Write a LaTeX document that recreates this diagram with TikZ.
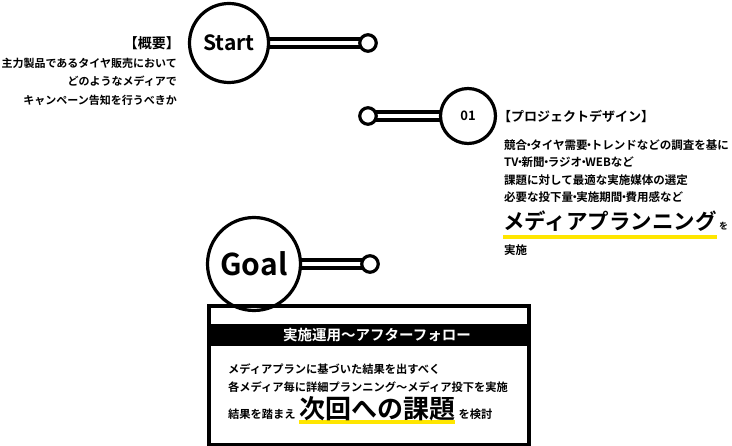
\documentclass[tikz,border=0pt]{standalone}
\usepackage{fontspec}
\setmainfont{Noto Sans CJK JP}[BoldFont={Noto Sans CJK JP Bold}]
\usetikzlibrary{positioning,backgrounds}
\definecolor{marker}{HTML}{FFE600}
\newcommand{\nakadot}{\makebox[0.28em]{・}}

\begin{document}
\begin{tikzpicture}[x=1pt,y=-1pt,
    station/.style={circle,draw,fill=white,line width=3.2pt,inner sep=0pt},
    stub/.style={circle,draw,fill=white,line width=3.2pt,minimum size=16.5pt,inner sep=0pt},
    rail/.style={line width=4pt,double=white,double distance=3.5pt,shorten <=-3pt,shorten >=-3pt},
    txt/.style={inner sep=0pt,font=\bfseries\fontsize{11.5}{14}\selectfont},
    hilite/.style={marker,line width=4pt}]
  \useasboundingbox (0,0) rectangle (732,446);
  \node[station,minimum size=79pt,font=\bfseries\fontsize{21}{24}\selectfont] (start) at (229,43) {Start};
  \node[stub] (startend) at (368,43) {};
  \node[station,minimum size=55pt,font=\bfseries\fontsize{13}{15}\selectfont] (pd) at (468,116) {01};
  \node[stub] (pdend) at (368,116) {};
  \node[station,minimum size=93pt,font=\bfseries\fontsize{30}{32}\selectfont] (goal) at (254,264) {Goal};
  \node[stub] (goalend) at (370,264) {};

  \node[txt,anchor=east,font=\bfseries\fontsize{14}{16}\selectfont] (ovtitle) at (180,43) {【概要】};
  \foreach \line [count=\i] in {主力製品であるタイヤ販売において,どのようなメディアで,キャンペーン告知を行うべきか}
    \node[txt,anchor=east,font=\bfseries\fontsize{11}{13}\selectfont] (ov\i) at (177,{63+18.5*(\i-1)}) {\line};

  \node[txt,anchor=west,font=\bfseries\fontsize{13}{15}\selectfont] (pdtitle) at (498,116) {【プロジェクトデザイン】};
  \foreach \line [count=\i] in {競合\nakadot タイヤ需要\nakadot トレンドなどの調査を基に,TV\nakadot 新聞\nakadot ラジオ\nakadot WEBなど,課題に対して最適な実施媒体の選定,必要な投下量\nakadot 実施期間\nakadot 費用感など}
    \node[txt,anchor=west] (pd\i) at (504,{145+17.5*(\i-1)}) {\line};
  \node[anchor=west,inner sep=0pt,font=\bfseries\fontsize{21.5}{24}\selectfont] (mp) at (503,221) {メディアプランニング};
  \node[txt,right=2pt of mp.base east,anchor=base west,font=\bfseries\fontsize{9}{10}\selectfont] (mpwo) {を};
  \node[txt,anchor=west] (mpdo) at (504,250) {実施};

  \node[draw,line width=4pt,minimum width=320pt,minimum height=139pt,inner sep=0pt,anchor=north west] (box) at (207,304) {};
  \node[fill=black,minimum width=320pt,minimum height=22pt,inner sep=0pt] (head) at (367,335) {};
  \node[text=white,inner sep=0pt,font=\bfseries\fontsize{14.5}{16}\selectfont] (headtext) at ([xshift=10pt]head.center) {実施運用〜アフターフォロー};
  \node[txt,anchor=west,font=\bfseries\fontsize{11.25}{13}\selectfont] (res1) at (228,369) {メディアプランに基づいた結果を出すべく};
  \node[txt,anchor=west,font=\bfseries\fontsize{11.25}{13}\selectfont] (res2) at (228,387) {各メディア毎に詳細プランニング〜メディア投下を実施};
  \node[txt,anchor=west,font=\bfseries\fontsize{11.25}{13}\selectfont] (res3) at (228,414) {結果を踏まえ};
  \node[anchor=base west,inner sep=0pt,font=\bfseries\fontsize{26}{28}\selectfont] (kadai) at ([xshift=3pt]res3.base east) {次回への課題};
  \node[txt,anchor=base west,font=\bfseries\fontsize{11.25}{13}\selectfont] (kento) at ([xshift=3pt]kadai.base east) {を検討};

  \begin{scope}[on background layer]
    \draw[rail] (start) -- (startend);
    \draw[rail] (pd) -- (pdend);
    \draw[rail] (goal) -- (goalend);
    \draw[hilite] ([yshift=-7.5pt]mp.base west) -- ([yshift=-7.5pt]mp.base east);
    \draw[hilite] ([yshift=-3.5pt]kadai.base west) -- ([yshift=-3.5pt]kadai.base east);
  \end{scope}
\end{tikzpicture}
\end{document}
